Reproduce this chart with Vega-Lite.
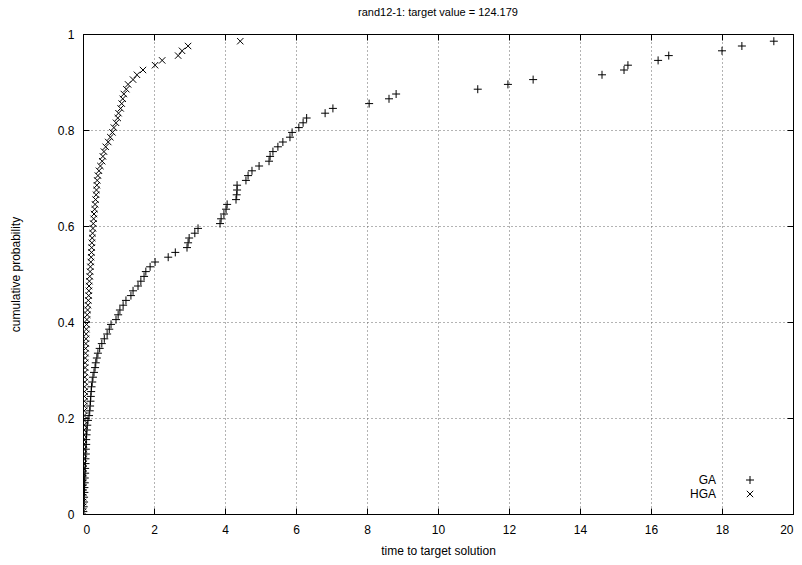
{
  "$schema": "https://vega.github.io/schema/vega-lite/v6.json",
  "autosize": {"type": "none"},
  "padding": {"left": 83, "top": 34, "right": 9, "bottom": 51},
  "width": 710,
  "height": 480,
  "background": "white",
  "title": {"text": "rand12-1: target value = 124.179", "font": "Liberation Sans", "fontSize": 11, "fontWeight": "normal", "color": "black", "offset": 10},
  "config": {
    "view": {"stroke": "black", "strokeWidth": 1},
    "font": "Liberation Sans",
    "axis": {"labelFont": "Liberation Sans", "titleFont": "Liberation Sans", "labelFontSize": 12, "titleFontSize": 12, "titleFontWeight": "normal", "labelColor": "black", "titleColor": "black", "domainColor": "black", "tickColor": "black", "gridColor": "#666", "gridDash": [1, 3], "gridOpacity": 1}
  },
  "data": {"values": [
    {"s":"GA","t":0.01,"p":0.005},{"s":"GA","t":0.02,"p":0.015},{"s":"GA","t":0.03,"p":0.025},{"s":"GA","t":0.03,"p":0.035},{"s":"GA","t":0.04,"p":0.045},{"s":"GA","t":0.04,"p":0.055},{"s":"GA","t":0.05,"p":0.065},{"s":"GA","t":0.05,"p":0.075},{"s":"GA","t":0.06,"p":0.085},{"s":"GA","t":0.06,"p":0.095},
    {"s":"GA","t":0.07,"p":0.105},{"s":"GA","t":0.07,"p":0.115},{"s":"GA","t":0.08,"p":0.125},{"s":"GA","t":0.08,"p":0.135},{"s":"GA","t":0.09,"p":0.145},{"s":"GA","t":0.09,"p":0.155},{"s":"GA","t":0.1,"p":0.165},{"s":"GA","t":0.11,"p":0.175},{"s":"GA","t":0.12,"p":0.185},{"s":"GA","t":0.14,"p":0.195},
    {"s":"GA","t":0.17,"p":0.205},{"s":"GA","t":0.19,"p":0.215},{"s":"GA","t":0.2,"p":0.225},{"s":"GA","t":0.21,"p":0.235},{"s":"GA","t":0.22,"p":0.245},{"s":"GA","t":0.23,"p":0.255},{"s":"GA","t":0.24,"p":0.265},{"s":"GA","t":0.26,"p":0.275},{"s":"GA","t":0.28,"p":0.285},{"s":"GA","t":0.31,"p":0.295},
    {"s":"GA","t":0.34,"p":0.305},{"s":"GA","t":0.36,"p":0.315},{"s":"GA","t":0.39,"p":0.325},{"s":"GA","t":0.42,"p":0.335},{"s":"GA","t":0.47,"p":0.345},{"s":"GA","t":0.53,"p":0.355},{"s":"GA","t":0.6,"p":0.365},{"s":"GA","t":0.68,"p":0.375},{"s":"GA","t":0.74,"p":0.385},{"s":"GA","t":0.79,"p":0.395},
    {"s":"GA","t":0.93,"p":0.405},{"s":"GA","t":0.99,"p":0.415},{"s":"GA","t":1.04,"p":0.425},{"s":"GA","t":1.13,"p":0.435},{"s":"GA","t":1.21,"p":0.445},{"s":"GA","t":1.35,"p":0.455},{"s":"GA","t":1.41,"p":0.465},{"s":"GA","t":1.55,"p":0.475},{"s":"GA","t":1.63,"p":0.485},{"s":"GA","t":1.72,"p":0.495},
    {"s":"GA","t":1.77,"p":0.505},{"s":"GA","t":1.89,"p":0.515},{"s":"GA","t":2.03,"p":0.525},{"s":"GA","t":2.4,"p":0.535},{"s":"GA","t":2.6,"p":0.545},{"s":"GA","t":2.93,"p":0.555},{"s":"GA","t":2.96,"p":0.565},{"s":"GA","t":2.99,"p":0.575},{"s":"GA","t":3.15,"p":0.585},{"s":"GA","t":3.24,"p":0.595},
    {"s":"GA","t":3.86,"p":0.605},{"s":"GA","t":3.89,"p":0.615},{"s":"GA","t":3.97,"p":0.625},{"s":"GA","t":4.03,"p":0.635},{"s":"GA","t":4.06,"p":0.645},{"s":"GA","t":4.31,"p":0.655},{"s":"GA","t":4.33,"p":0.665},{"s":"GA","t":4.34,"p":0.675},{"s":"GA","t":4.34,"p":0.685},{"s":"GA","t":4.59,"p":0.695},
    {"s":"GA","t":4.65,"p":0.705},{"s":"GA","t":4.76,"p":0.715},{"s":"GA","t":4.96,"p":0.725},{"s":"GA","t":5.24,"p":0.735},{"s":"GA","t":5.27,"p":0.745},{"s":"GA","t":5.35,"p":0.755},{"s":"GA","t":5.49,"p":0.765},{"s":"GA","t":5.63,"p":0.775},{"s":"GA","t":5.83,"p":0.785},{"s":"GA","t":5.89,"p":0.795},
    {"s":"GA","t":6.08,"p":0.805},{"s":"GA","t":6.2,"p":0.815},{"s":"GA","t":6.3,"p":0.825},{"s":"GA","t":6.82,"p":0.835},{"s":"GA","t":7.04,"p":0.845},{"s":"GA","t":8.06,"p":0.855},{"s":"GA","t":8.62,"p":0.865},{"s":"GA","t":8.82,"p":0.875},{"s":"GA","t":11.12,"p":0.885},{"s":"GA","t":11.97,"p":0.895},
    {"s":"GA","t":12.68,"p":0.905},{"s":"GA","t":14.62,"p":0.915},{"s":"GA","t":15.24,"p":0.925},{"s":"GA","t":15.35,"p":0.935},{"s":"GA","t":16.2,"p":0.945},{"s":"GA","t":16.5,"p":0.955},{"s":"GA","t":18.0,"p":0.965},{"s":"GA","t":18.56,"p":0.975},{"s":"GA","t":19.46,"p":0.985},
    {"s":"HGA","t":0.002,"p":0.005},{"s":"HGA","t":0.003,"p":0.015},{"s":"HGA","t":0.004,"p":0.025},{"s":"HGA","t":0.005,"p":0.035},{"s":"HGA","t":0.006,"p":0.045},{"s":"HGA","t":0.007,"p":0.055},{"s":"HGA","t":0.008,"p":0.065},{"s":"HGA","t":0.01,"p":0.075},{"s":"HGA","t":0.01,"p":0.085},{"s":"HGA","t":0.01,"p":0.095},
    {"s":"HGA","t":0.015,"p":0.105},{"s":"HGA","t":0.015,"p":0.115},{"s":"HGA","t":0.015,"p":0.125},{"s":"HGA","t":0.02,"p":0.135},{"s":"HGA","t":0.02,"p":0.145},{"s":"HGA","t":0.02,"p":0.155},{"s":"HGA","t":0.025,"p":0.165},{"s":"HGA","t":0.025,"p":0.175},{"s":"HGA","t":0.03,"p":0.185},{"s":"HGA","t":0.03,"p":0.195},
    {"s":"HGA","t":0.03,"p":0.205},{"s":"HGA","t":0.035,"p":0.215},{"s":"HGA","t":0.035,"p":0.225},{"s":"HGA","t":0.04,"p":0.235},{"s":"HGA","t":0.04,"p":0.245},{"s":"HGA","t":0.045,"p":0.255},{"s":"HGA","t":0.045,"p":0.265},{"s":"HGA","t":0.05,"p":0.275},{"s":"HGA","t":0.05,"p":0.285},{"s":"HGA","t":0.055,"p":0.295},
    {"s":"HGA","t":0.06,"p":0.305},{"s":"HGA","t":0.06,"p":0.315},{"s":"HGA","t":0.065,"p":0.325},{"s":"HGA","t":0.07,"p":0.335},{"s":"HGA","t":0.075,"p":0.345},{"s":"HGA","t":0.08,"p":0.355},{"s":"HGA","t":0.085,"p":0.365},{"s":"HGA","t":0.09,"p":0.375},{"s":"HGA","t":0.095,"p":0.385},{"s":"HGA","t":0.1,"p":0.395},
    {"s":"HGA","t":0.11,"p":0.405},{"s":"HGA","t":0.12,"p":0.415},{"s":"HGA","t":0.13,"p":0.425},{"s":"HGA","t":0.14,"p":0.435},{"s":"HGA","t":0.15,"p":0.445},{"s":"HGA","t":0.16,"p":0.455},{"s":"HGA","t":0.165,"p":0.465},{"s":"HGA","t":0.17,"p":0.475},{"s":"HGA","t":0.18,"p":0.485},{"s":"HGA","t":0.19,"p":0.495},
    {"s":"HGA","t":0.2,"p":0.505},{"s":"HGA","t":0.21,"p":0.515},{"s":"HGA","t":0.22,"p":0.525},{"s":"HGA","t":0.23,"p":0.535},{"s":"HGA","t":0.24,"p":0.545},{"s":"HGA","t":0.245,"p":0.555},{"s":"HGA","t":0.25,"p":0.565},{"s":"HGA","t":0.26,"p":0.575},{"s":"HGA","t":0.27,"p":0.585},{"s":"HGA","t":0.28,"p":0.595},
    {"s":"HGA","t":0.29,"p":0.605},{"s":"HGA","t":0.3,"p":0.615},{"s":"HGA","t":0.31,"p":0.625},{"s":"HGA","t":0.33,"p":0.635},{"s":"HGA","t":0.34,"p":0.645},{"s":"HGA","t":0.355,"p":0.655},{"s":"HGA","t":0.37,"p":0.665},{"s":"HGA","t":0.38,"p":0.675},{"s":"HGA","t":0.39,"p":0.685},{"s":"HGA","t":0.4,"p":0.695},
    {"s":"HGA","t":0.42,"p":0.705},{"s":"HGA","t":0.45,"p":0.715},{"s":"HGA","t":0.49,"p":0.725},{"s":"HGA","t":0.54,"p":0.735},{"s":"HGA","t":0.56,"p":0.745},{"s":"HGA","t":0.59,"p":0.755},{"s":"HGA","t":0.64,"p":0.765},{"s":"HGA","t":0.71,"p":0.775},{"s":"HGA","t":0.77,"p":0.785},{"s":"HGA","t":0.83,"p":0.795},
    {"s":"HGA","t":0.87,"p":0.805},{"s":"HGA","t":0.93,"p":0.815},{"s":"HGA","t":0.98,"p":0.825},{"s":"HGA","t":1.0,"p":0.835},{"s":"HGA","t":1.06,"p":0.845},{"s":"HGA","t":1.09,"p":0.855},{"s":"HGA","t":1.12,"p":0.865},{"s":"HGA","t":1.15,"p":0.875},{"s":"HGA","t":1.22,"p":0.885},{"s":"HGA","t":1.27,"p":0.895},
    {"s":"HGA","t":1.41,"p":0.905},{"s":"HGA","t":1.52,"p":0.915},{"s":"HGA","t":1.69,"p":0.925},{"s":"HGA","t":2.03,"p":0.935},{"s":"HGA","t":2.23,"p":0.945},{"s":"HGA","t":2.68,"p":0.955},{"s":"HGA","t":2.79,"p":0.965},{"s":"HGA","t":2.96,"p":0.975},{"s":"HGA","t":4.43,"p":0.985}
  ]},
  "layer": [
    {
      "transform": [{"filter": "datum.s === 'GA'"}],
      "mark": {"type": "point", "filled": false, "stroke": "black", "strokeWidth": 1, "opacity": 1, "size": 64, "clip": true},
      "encoding": {
        "x": {"field": "t", "type": "quantitative", "scale": {"domain": [0, 20], "nice": false, "zero": false},
              "axis": {"title": "time to target solution", "values": [0,2,4,6,8,10,12,14,16,18,20], "format": "~g", "tickSize": -6, "labelPadding": 16, "titlePadding": 10, "grid": true}},
        "y": {"field": "p", "type": "quantitative", "scale": {"domain": [0, 1], "nice": false},
              "axis": {"title": "cumulative probability", "values": [0,0.2,0.4,0.6,0.8,1], "format": "~g", "tickSize": -6, "labelPadding": 15, "titlePadding": 35, "grid": true}},
        "shape": {"field": "s", "type": "nominal", "scale": {"domain": ["GA", "HGA"], "range": ["M-1,0L1,0M0,-1L0,1", "M-0.8,-0.8L0.8,0.8M-0.8,0.8L0.8,-0.8"]},
                  "legend": {"title": null, "orient": "none", "legendX": 661, "legendY": 440, "padding": 0, "labelAlign": "right", "labelOffset": -40, "labelFontSize": 12, "labelFont": "Liberation Sans", "labelColor": "black", "symbolStrokeColor": "black", "symbolStrokeWidth": 1, "symbolSize": 64, "rowPadding": 2}}
      }
    },
    {
      "transform": [{"filter": "datum.s === 'HGA'"}],
      "mark": {"type": "point", "filled": false, "stroke": "black", "strokeWidth": 1, "opacity": 1, "size": 64, "clip": true},
      "encoding": {
        "x": {"field": "t", "type": "quantitative", "axis": {"title": null, "labels": false, "values": [0,2,4,6,8,10,12,14,16,18,20], "tickSize": -6, "grid": false}},
        "y": {"field": "p", "type": "quantitative", "axis": {"title": null, "labels": false, "values": [0,0.2,0.4,0.6,0.8,1], "tickSize": -6, "grid": false}},
        "shape": {"field": "s", "type": "nominal"}
      }
    }
  ],
  "resolve": {"axis": {"x": "independent", "y": "independent"}}
}
